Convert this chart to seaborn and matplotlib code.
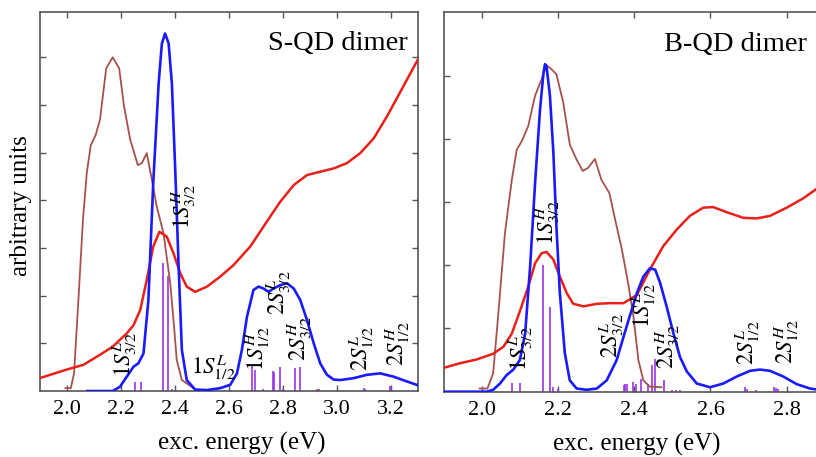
import matplotlib
matplotlib.use("Agg")
import matplotlib.pyplot as plt
import seaborn as sns

# ---------------- data: S-QD dimer (left) ----------------
s_blue_x = [2.074, 2.17, 2.197, 2.222, 2.247, 2.265, 2.284, 2.302, 2.32, 2.34, 2.352, 2.364, 2.377,
            2.389, 2.401, 2.414, 2.426, 2.444, 2.475, 2.519, 2.568, 2.605, 2.63, 2.648, 2.667, 2.691,
            2.71, 2.728, 2.747, 2.765, 2.79, 2.815, 2.84, 2.864, 2.889, 2.914, 2.938, 2.963, 2.988,
            3.012, 3.062, 3.111, 3.16, 3.21, 3.259, 3.3]
s_blue_y = [0.0, 0.0, 0.09, 0.30, 0.51, 0.58, 0.79, 1.90, 4.36, 6.45, 7.29, 7.50, 7.29,
            6.45, 4.71, 2.61, 0.86, 0.23, 0.03, 0.02, 0.06, 0.13, 0.37, 0.86, 1.56, 2.12,
            2.19, 2.15, 2.08, 2.15, 2.22, 2.26, 2.15, 1.91, 1.49, 1.00, 0.58, 0.34, 0.24,
            0.23, 0.27, 0.34, 0.37, 0.30, 0.20, 0.12]

s_red_x = [1.9, 2.0, 2.062, 2.123, 2.17, 2.222, 2.247, 2.272, 2.296, 2.32, 2.343, 2.37, 2.395, 2.42,
           2.444, 2.475, 2.519, 2.568, 2.617, 2.679, 2.74, 2.79, 2.84, 2.889, 2.938, 2.988, 3.037,
           3.086, 3.136, 3.185, 3.235, 3.3]
s_red_y = [0.27, 0.45, 0.55, 0.76, 0.93, 1.21, 1.38, 1.70, 2.33, 3.03, 3.34, 3.24, 2.89, 2.47,
           2.19, 2.08, 2.19, 2.40, 2.64, 3.03, 3.55, 3.97, 4.32, 4.53, 4.60, 4.67, 4.78,
           4.99, 5.30, 5.76, 6.28, 6.96]

s_brown_x = [1.994, 2.015, 2.027, 2.043, 2.06, 2.074, 2.089, 2.107, 2.123, 2.146, 2.17, 2.194, 2.212,
             2.235, 2.263, 2.278, 2.296, 2.315, 2.333, 2.358, 2.383, 2.395, 2.407, 2.426, 2.469]
s_brown_y = [0.06, 0.06, 0.37, 1.90, 3.60, 4.57, 5.16, 5.37, 5.69, 6.77, 7.00, 6.77, 5.97,
             5.27, 4.74, 4.78, 4.99, 4.43, 3.87, 3.31, 2.26, 1.49, 0.65, 0.23, 0.06]

s_stick_x = [2.251, 2.275, 2.358, 2.373, 2.39, 2.583, 2.685, 2.695, 2.726, 2.763, 2.767, 2.79, 2.80,
             2.846, 2.862, 2.926, 2.933, 3.099, 3.105, 3.195, 3.20]
s_stick_h = [0.18, 0.18, 2.68, 2.41, 0.05, 0.03, 0.55, 0.45, 0.05, 0.42, 0.40, 0.50, 0.05,
             0.48, 0.50, 0.04, 0.04, 0.06, 0.05, 0.10, 0.08]

s_labels = [r"$1S^{L}_{3/2}$", r"$1S^{H}_{3/2}$", r"$1S^{L}_{1/2}$", r"$1S^{H}_{1/2}$",
            r"$2S^{L}_{3/2}$", r"$2S^{H}_{3/2}$", r"$2S^{L}_{1/2}$", r"$2S^{H}_{1/2}$"]
s_label_x = [2.216, 2.432, 2.543, 2.706, 2.784, 2.862, 3.09, 3.226]
s_label_y = [0.76, 3.87, 0.48, 0.90, 2.07, 1.10, 0.90, 0.99]
s_label_rot = [90, 90, 0, 90, 90, 90, 90, 90]

# ---------------- data: B-QD dimer (right) ----------------
b_blue_x = [1.902, 2.013, 2.03, 2.048, 2.065, 2.083, 2.10, 2.114, 2.127, 2.14, 2.153, 2.162, 2.166,
            2.17, 2.179, 2.188, 2.196, 2.205, 2.218, 2.231, 2.249, 2.275, 2.302, 2.328, 2.354, 2.38,
            2.407, 2.424, 2.441, 2.455, 2.468, 2.485, 2.503, 2.52, 2.538, 2.564, 2.599, 2.634,
            2.669, 2.704, 2.73, 2.756, 2.791, 2.826, 2.861, 2.9]
b_blue_y = [0.0, 0.0, 0.03, 0.13, 0.26, 0.35, 0.50, 0.92, 1.98, 3.30, 4.46, 5.04, 5.18,
            5.15, 4.68, 3.78, 2.61, 1.56, 0.61, 0.18, 0.05, 0.03, 0.05, 0.18, 0.50, 1.03,
            1.56, 1.82, 1.95, 1.93, 1.72, 1.35, 0.92, 0.55, 0.32, 0.13, 0.07, 0.13,
            0.24, 0.33, 0.35, 0.33, 0.24, 0.12, 0.05, 0.02]

b_red_x = [1.902, 1.943, 1.987, 2.03, 2.057, 2.079, 2.10, 2.122, 2.14, 2.157, 2.17, 2.188, 2.205,
           2.223, 2.24, 2.267, 2.302, 2.337, 2.372, 2.407, 2.441, 2.476, 2.511, 2.546, 2.581, 2.607,
           2.642, 2.686, 2.721, 2.756, 2.80, 2.844, 2.9]
b_red_y = [0.38, 0.45, 0.51, 0.60, 0.71, 0.92, 1.27, 1.66, 2.03, 2.19, 2.21, 2.09, 1.82,
           1.56, 1.39, 1.35, 1.39, 1.40, 1.40, 1.53, 1.93, 2.30, 2.56, 2.78, 2.91, 2.92,
           2.84, 2.75, 2.74, 2.78, 2.91, 3.06, 3.30]

b_brown_x = [1.994, 2.015, 2.03, 2.043, 2.061, 2.079, 2.092, 2.105, 2.122, 2.14, 2.157, 2.17, 2.183,
             2.196, 2.214, 2.231, 2.249, 2.265, 2.279, 2.297, 2.314, 2.335, 2.35, 2.367, 2.384,
             2.398, 2.411, 2.424, 2.441, 2.472]
b_brown_y = [0.05, 0.05, 0.29, 1.19, 2.51, 3.35, 3.83, 3.96, 4.20, 4.68, 4.94, 5.16, 5.10,
             5.02, 4.57, 3.91, 3.67, 3.49, 3.54, 3.68, 3.35, 3.14, 2.72, 2.27, 1.72,
             1.19, 0.50, 0.18, 0.08, 0.07]

b_stick_x = [2.080, 2.100, 2.162, 2.179, 2.186, 2.20, 2.372, 2.376, 2.38, 2.398, 2.405, 2.419, 2.435,
             2.448, 2.455, 2.478, 2.50, 2.51, 2.52, 2.69, 2.695, 2.72, 2.767, 2.772, 2.776]
b_stick_h = [0.14, 0.14, 2.00, 1.34, 0.08, 0.04, 0.10, 0.12, 0.12, 0.16, 0.12, 0.20, 0.12,
             0.42, 0.52, 0.19, 0.03, 0.03, 0.03, 0.07, 0.05, 0.02, 0.07, 0.06, 0.05]

b_labels = [r"$1S^{L}_{3/2}$", r"$1S^{H}_{3/2}$", r"$2S^{L}_{3/2}$", r"$1S^{L}_{1/2}$",
            r"$2S^{H}_{3/2}$", r"$2S^{L}_{1/2}$", r"$2S^{H}_{1/2}$"]
b_label_x = [2.102, 2.172, 2.341, 2.425, 2.487, 2.699, 2.80]
b_label_y = [0.68, 2.68, 0.89, 1.37, 0.71, 0.77, 0.79]

x_ticks_left = [2.0, 2.2, 2.4, 2.6, 2.8, 3.0, 3.2]
x_ticks_right = [2.0, 2.2, 2.4, 2.6, 2.8]

# ---------------- styling ----------------
sns.set_style("ticks")
plt.rcParams["font.family"] = ["Liberation Serif", "DejaVu Serif"]
plt.rcParams["mathtext.fontset"] = "stix"
plt.rcParams["text.color"] = "black"
plt.rcParams["axes.labelcolor"] = "black"

RED = "#e8201a"
BLUE = "#1a1aff"
BROWN = "#a5524e"
STICK = "#9a33e6"
SPINE = "#555555"

fig = plt.figure(figsize=(8.16, 4.57), dpi=100)
axL = fig.add_axes([0.0487, 0.1444, 0.4636, 0.8293])
axR = fig.add_axes([0.5436, 0.1429, 0.4672, 0.8302])


def draw(ax, bx, by, rx, ry, brx, bry, sx, sh):
    ax.vlines(sx, 0, sh, color=STICK, lw=1.2, zorder=1)
    sns.lineplot(x=brx, y=bry, ax=ax, color=BROWN, lw=1.3, zorder=2)
    sns.lineplot(x=rx, y=ry, ax=ax, color=RED, lw=1.8, zorder=3)
    sns.lineplot(x=bx, y=by, ax=ax, color=BLUE, lw=1.9, zorder=4)


draw(axL, s_blue_x, s_blue_y, s_red_x, s_red_y, s_brown_x, s_brown_y, s_stick_x, s_stick_h)
draw(axR, b_blue_x, b_blue_y, b_red_x, b_red_y, b_brown_x, b_brown_y, b_stick_x, b_stick_h)

axL.set_xlim(1.9, 3.3)
axL.set_ylim(0, 7.95)
axL.set_yticks([1, 2, 3, 4, 5, 6, 7])
axL.set_xticks(x_ticks_left)
axR.set_xlim(1.9, 2.9)
axR.set_ylim(0, 6.0)
axR.set_yticks([1, 2, 3, 4, 5])
axR.set_xticks(x_ticks_right)

for ax in (axL, axR):
    ax.set_yticklabels([])
    ax.set_xticklabels([f"{t:.1f}" for t in ax.get_xticks()])
    ax.tick_params(direction="in", length=4, width=1.0, color=SPINE, top=True, right=True,
                   labelsize=16, pad=6.5, labelcolor="black")
    for sp in ax.spines.values():
        sp.set_color(SPINE)
        sp.set_linewidth(1.2)
    ax.set_xlabel("exc. energy (eV)", fontsize=18, color="black")
    ax.set_ylabel("")

axL.xaxis.set_label_coords(0.534, -0.108)
axR.xaxis.set_label_coords(0.507, -0.108)
axL.set_ylabel("arbitrary units", fontsize=18, color="black")
axL.yaxis.set_label_coords(-0.02, 0.49)

axL.text(0.974, 0.9, "S-QD dimer", transform=axL.transAxes, ha="right", va="baseline",
         fontsize=20.5, color="black")
axR.text(0.952, 0.899, "B-QD dimer", transform=axR.transAxes, ha="right", va="baseline",
         fontsize=20.5, color="black")

for lab, lx, ly, rot in zip(s_labels, s_label_x, s_label_y, s_label_rot):
    axL.text(lx, ly, lab, rotation=rot, ha="center", va="center", fontsize=16.5,
             color="black", zorder=6)
for lab, lx, ly in zip(b_labels, b_label_x, b_label_y):
    axR.text(lx, ly, lab, rotation=90, ha="center", va="center", fontsize=16.5,
             color="black", zorder=6)

fig.savefig("out.png", dpi=100)
